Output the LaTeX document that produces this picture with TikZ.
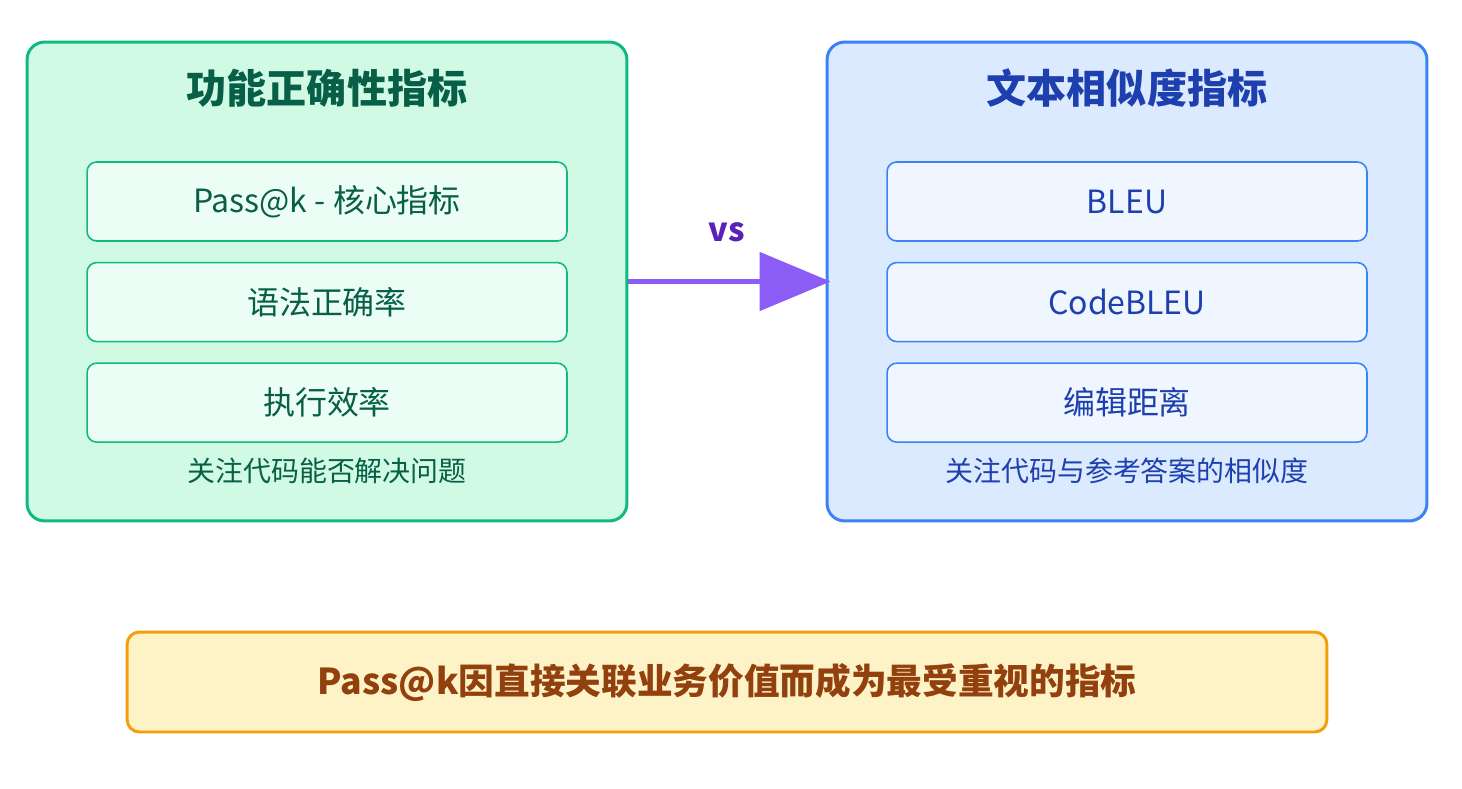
\documentclass[tikz,border=0pt]{standalone}
\usepackage{fontspec}
\setmainfont{Noto Sans CJK SC}
\usetikzlibrary{arrows.meta, positioning}
\definecolor{verdeBorde}{HTML}{10B981}
\definecolor{verdeFondo}{HTML}{D1FAE5}
\definecolor{verdeCaja}{HTML}{ECFDF5}
\definecolor{verdeTexto}{HTML}{065F46}
\definecolor{azulBorde}{HTML}{3B82F6}
\definecolor{azulFondo}{HTML}{DBEAFE}
\definecolor{azulCaja}{HTML}{EFF6FF}
\definecolor{azulTexto}{HTML}{1E40AF}
\definecolor{lila}{HTML}{8B5CF6}
\definecolor{lilaTexto}{HTML}{5B21B6}
\definecolor{ambarBorde}{HTML}{F59E0B}
\definecolor{ambarFondo}{HTML}{FEF3C7}
\definecolor{ambarTexto}{HTML}{92400E}

\begin{document}
\begin{tikzpicture}[x=0.02cm, y=-0.02cm,
  panel/.style={draw, line width=1.7pt, rounded corners=10pt, minimum width=12cm, minimum height=9.58cm},
  caja/.style={draw, line width=0.9pt, rounded corners=5.5pt, minimum width=9.6cm, minimum height=1.58cm, font=\fontsize{18.2}{22}\selectfont},
  titulo/.style={font=\fontsize{22.8}{27}\selectfont\bfseries},
  nota/.style={font=\fontsize{15.9}{19}\selectfont},
  node distance=0.4cm]
\useasboundingbox (0,0) rectangle (1462,788);
% Panel 1: correccion funcional
\node[panel, draw=verdeBorde, fill=verdeFondo] (izq) at (327,281.5) {};
\node[titulo, text=verdeTexto] (izqTitulo) at (327,88) {功能正确性指标};
\node[caja, draw=verdeBorde, fill=verdeCaja, text=verdeTexto] (izqA) at (327,201.5) {Pass@k - 核心指标};
\node[caja, draw=verdeBorde, fill=verdeCaja, text=verdeTexto, below=of izqA] (izqB) {语法正确率};
\node[caja, draw=verdeBorde, fill=verdeCaja, text=verdeTexto, below=of izqB] (izqC) {执行效率};
\node[nota, text=verdeTexto] (izqNota) at (327,471) {关注代码能否解决问题};
% Panel 2: similitud textual
\node[panel, draw=azulBorde, fill=azulFondo] (der) at (1127,281.5) {};
\node[titulo, text=azulTexto] (derTitulo) at (1127,88) {文本相似度指标};
\node[caja, draw=azulBorde, fill=azulCaja, text=azulTexto] (derA) at (1127,201.5) {BLEU};
\node[caja, draw=azulBorde, fill=azulCaja, text=azulTexto, below=of derA] (derB) {CodeBLEU};
\node[caja, draw=azulBorde, fill=azulCaja, text=azulTexto, below=of derB] (derC) {编辑距离};
\node[nota, text=azulTexto] (derNota) at (1127,471) {关注代码与参考答案的相似度};
% Flecha vs
\node[font=\fontsize{18.5}{22}\selectfont\bfseries, text=lilaTexto] (vs) at (727,232) {vs};
\draw[lila, line width=2.85pt, -{Triangle[length=1.42cm, width=1.16cm]}] (izq.east) -- ([xshift=0.1cm]der.west);
% Conclusion
\node[draw=ambarBorde, fill=ambarFondo, line width=1.7pt, rounded corners=7pt, minimum width=24cm, minimum height=2cm,
  font=\fontsize{20.3}{24}\selectfont\bfseries, text=ambarTexto] (conclusion) at (727,682) {Pass@k因直接关联业务价值而成为最受重视的指标};
\end{tikzpicture}
\end{document}
